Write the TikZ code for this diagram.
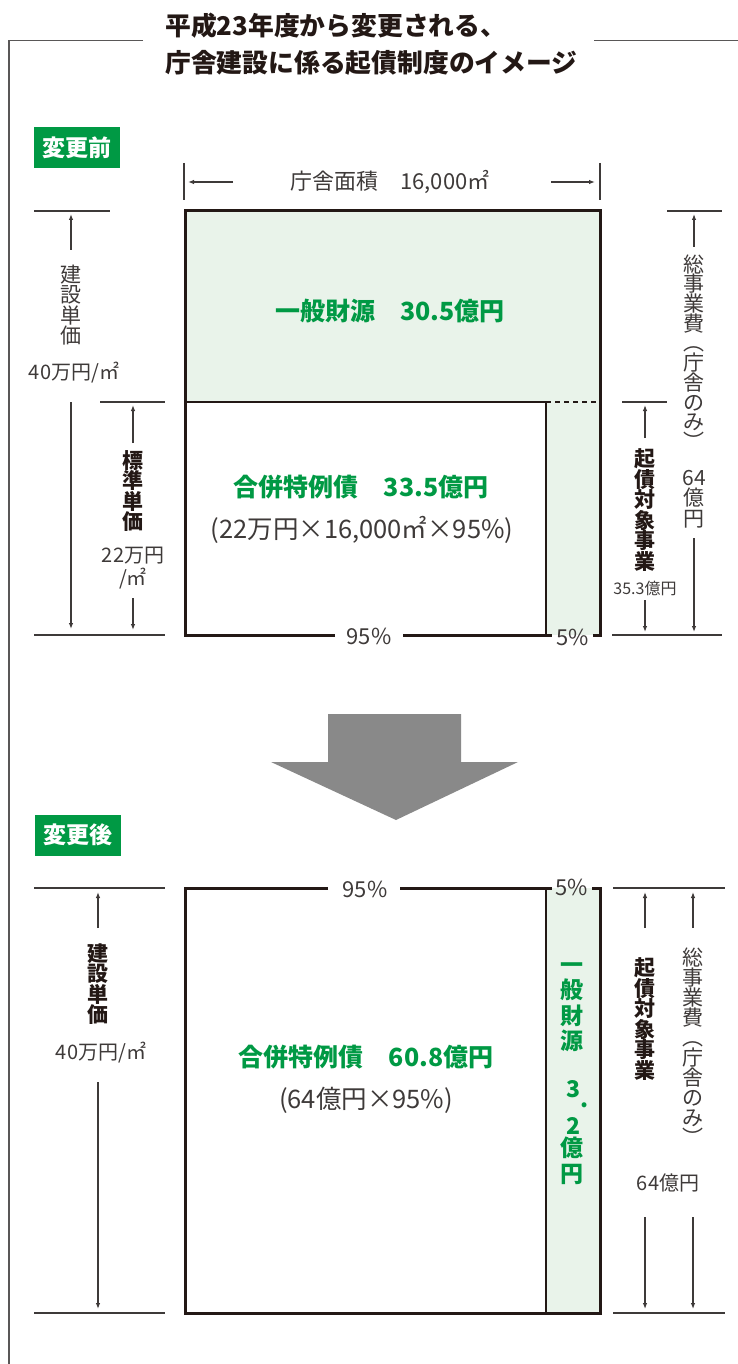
\documentclass[tikz,border=0pt]{standalone}
\usepackage{fontspec}
\setmainfont{Noto Sans CJK JP}
\usetikzlibrary{arrows.meta}
\definecolor{grn}{RGB}{0,153,68}
\definecolor{lgrn}{RGB}{233,243,234}
\definecolor{txtgray}{RGB}{62,58,57}
\definecolor{lblk}{RGB}{35,24,21}
\definecolor{framegray}{RGB}{89,87,87}
\definecolor{arrgray}{RGB}{137,137,137}
\tikzset{
  lbl/.style={inner sep=0pt, text=txtgray, font=\fontsize{21}{21}\selectfont},
  smlbl/.style={lbl, font=\fontsize{20}{23}\selectfont, align=center},
  vlbl/.style={lbl, align=center, font=\fontsize{21}{20.5}\selectfont},
  vbold/.style={inner sep=0pt, align=center, text=lblk, font=\fontsize{21}{20.5}\selectfont\bfseries},
  gtxt/.style={inner sep=0pt, text=grn, font=\fontsize{25}{25}\selectfont\bfseries},
  vgtxt/.style={gtxt, align=center, font=\fontsize{23}{25.5}\selectfont\bfseries},
  gdigit/.style={gtxt, font=\fontsize{23}{23}\selectfont\bfseries, text height=17pt, text depth=0pt, anchor=base},
  formula/.style={lbl, font=\fontsize{25.5}{25.5}\selectfont},
  pct/.style={lbl, font=\fontsize{22}{22}\selectfont},
  badge/.style={fill=grn, text=white, font=\fontsize{23}{23}\selectfont\bfseries, minimum width=86pt, minimum height=41pt, inner sep=0pt},
  titletxt/.style={inner sep=0pt, anchor=west, text=lblk, font=\fontsize{25.8}{25.8}\selectfont\bfseries},
  dim/.style={draw=txtgray, line width=1.1pt},
  darr/.style={dim, -{Latex[length=6pt,width=4.5pt]}},
  thick border/.style={draw=lblk, line width=3pt, line join=miter},
  thin border/.style={draw=lblk, line width=1.2pt},
}
\begin{document}
\begin{tikzpicture}[x=1pt,y=-1pt]
\useasboundingbox (0,0) rectangle (738,1364);
% frame
\draw[draw=framegray, line width=1.3pt] (143,40.5) -- (9,40.5) -- (9,1364);
\draw[draw=framegray, line width=1.3pt] (594,40.5) -- (738,40.5);
\node[titletxt] (t1) at (165,26) {平成23年度から変更される、};
\node[titletxt] (t2) at (165,63) {庁舎建設に係る起債制度のイメージ};

% ===== before =====
\node[badge] (b1) at (77,148) {変更前};
% fills
\fill[lgrn] (185,211) rectangle (600,402);
\fill[lgrn] (546,402) rectangle (600,635);
\draw[thin border] (185,402) -- (546,402);
\draw[thin border] (546,402) -- (546,635);
\draw[thin border, dashed, dash pattern=on 5pt off 4pt] (546,402) -- (600,402);
\draw[thick border] (335,635) -- (185,635) -- (185,211) -- (600,211) -- (600,635) -- (593,635);
\draw[thick border] (403,635) -- (552,635);
\node[pct] (p95a) at (369,636) {95\%};
\node[pct] (p5a) at (573,637) {5\%};

\node[gtxt] (g1) at (390,311) {一般財源　30.5億円};
\node[gtxt] (g2) at (361,487) {合併特例債　33.5億円};
\node[formula] (f1) at (362,530) {(22万円×16,000㎡×95\%)};

% width dimension
\draw[dim] (184,163) -- (184,200);
\draw[dim] (600,163) -- (600,200);
\node[lbl, font=\fontsize{22}{22}\selectfont] (w) at (390,182) {庁舎面積　16,000㎡};
\coordinate (wl1) at (233,182); \coordinate (wl2) at (188,182);
\coordinate (wr1) at (551,182); \coordinate (wr2) at (595,182);
\draw[darr] (wl1) -- (wl2);
\draw[darr] (wr1) -- (wr2);

% left dims
\draw[dim] (34,211) -- (110,211);
\draw[dim] (100,402) -- (165,402);
\draw[dim] (34,635) -- (165,635);
\node[vlbl] (k1) at (71,305) {建\\設\\単\\価};
\node[lbl, font=\fontsize{20}{20}\selectfont] (k1v) at (74,373) {40万円/㎡};
\coordinate (a1s) at (71,250); \coordinate (a1e) at (71,214);
\coordinate (a2s) at (71,402); \coordinate (a2e) at (71,629);
\draw[darr] (a1s) -- (a1e);
\draw[darr] (a2s) -- (a2e);
\node[vbold] (h1) at (133,491) {標\\準\\単\\価};
\node[smlbl] (h1v) at (133,568) {22万円\\/㎡};
\coordinate (a3s) at (133,443); \coordinate (a3e) at (133,405);
\coordinate (a4s) at (133,598); \coordinate (a4e) at (133,630);
\draw[darr] (a3s) -- (a3e);
\draw[darr] (a4s) -- (a4e);

% right dims
\draw[dim] (667,211) -- (722,211);
\draw[dim] (622,402) -- (667,402);
\draw[dim] (612,635) -- (722,635);
\node[vlbl, font=\fontsize{21}{19.7}\selectfont] (s1) at (694,352) {総\\事\\業\\費\\︵\\庁\\舎\\の\\み\\︶};
\node[vlbl] (s1v) at (694,499) {64\\億\\円};
\coordinate (a5s) at (694,247); \coordinate (a5e) at (694,214);
\coordinate (a6s) at (694,538); \coordinate (a6e) at (694,632);
\draw[darr] (a5s) -- (a5e);
\draw[darr] (a6s) -- (a6e);
\node[vbold] (r1) at (645,510) {起\\債\\対\\象\\事\\業};
\node[lbl, font=\fontsize{16}{16}\selectfont] (r1v) at (645,588) {35.3億円};
\coordinate (a7s) at (645,438); \coordinate (a7e) at (645,405);
\coordinate (a8s) at (645,600); \coordinate (a8e) at (645,632);
\draw[darr] (a7s) -- (a7e);
\draw[darr] (a8s) -- (a8e);

% ===== big arrow =====
\fill[arrgray] (328,714) -- (461,714) -- (461,762) -- (518,762) -- (396,820) -- (271,762) -- (328,762) -- cycle;

% ===== after =====
\node[badge] (b2) at (78,835) {変更後};
\fill[lgrn] (546,888) rectangle (600,1313);
\draw[thin border] (546,888) -- (546,1313);
\draw[thick border] (328,888) -- (185,888) -- (185,1313) -- (600,1313) -- (600,888) -- (592,888);
\draw[thick border] (400,888) -- (552,888);
\node[pct] (p95b) at (365,889) {95\%};
\node[pct] (p5b) at (572,887) {5\%};

\node[gtxt] (g3) at (366,1057) {合併特例債　60.8億円};
\node[formula] (f2) at (366,1100) {(64億円×95\%)};

\node[vgtxt] (g4) at (572,1007) {一\\般\\財\\源};
\node[gdigit] (g5a) at (573,1097) {3\rlap{\raisebox{-10pt}{.}}};
\node[gdigit] (g5c) at (573,1134) {2};
\node[vgtxt, font=\fontsize{23}{26}\selectfont\bfseries] (g5d) at (572,1161) {億\\円};

% left dims
\draw[dim] (34,888) -- (165,888);
\draw[dim] (34,1313) -- (165,1313);
\node[vbold] (k2) at (98,984) {建\\設\\単\\価};
\node[lbl, font=\fontsize{20}{20}\selectfont] (k2v) at (101,1053) {40万円/㎡};
\coordinate (b1s) at (98,928); \coordinate (b1e) at (98,892);
\coordinate (b2s) at (98,1082); \coordinate (b2e) at (98,1309);
\draw[darr] (b1s) -- (b1e);
\draw[darr] (b2s) -- (b2e);

% right dims
\draw[dim] (613,888) -- (725,888);
\draw[dim] (613,1313) -- (725,1313);
\node[vbold] (r2) at (645,1019) {起\\債\\対\\象\\事\\業};
\node[vlbl, font=\fontsize{21}{20}\selectfont] (s2) at (693,1047) {総\\事\\業\\費\\︵\\庁\\舎\\の\\み\\︶};
\node[lbl, font=\fontsize{20}{20}\selectfont] (s2v) at (668,1183) {64億円};
\coordinate (b3s) at (645,928); \coordinate (b3e) at (645,892);
\coordinate (b4s) at (645,1217); \coordinate (b4e) at (645,1309);
\coordinate (b5s) at (693,928); \coordinate (b5e) at (693,892);
\coordinate (b6s) at (693,1217); \coordinate (b6e) at (693,1309);
\draw[darr] (b3s) -- (b3e);
\draw[darr] (b4s) -- (b4e);
\draw[darr] (b5s) -- (b5e);
\draw[darr] (b6s) -- (b6e);
\end{tikzpicture}
\end{document}
